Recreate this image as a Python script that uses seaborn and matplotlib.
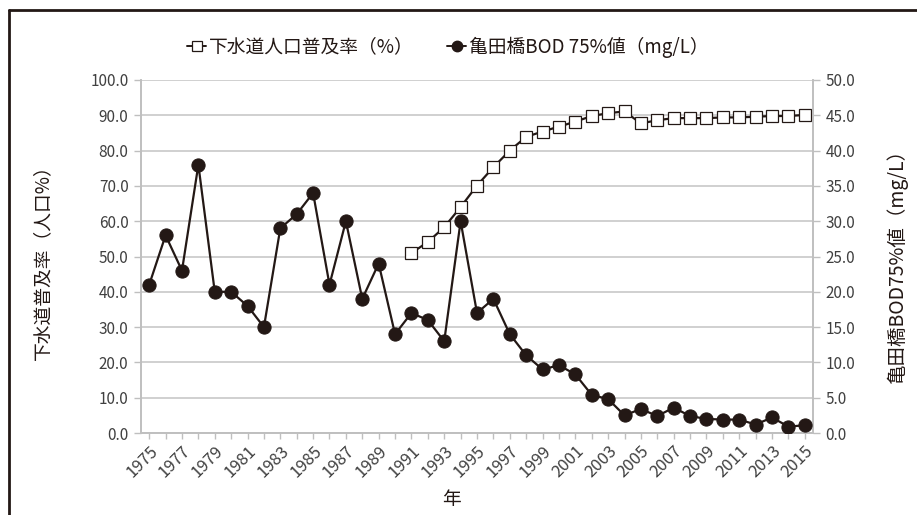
import matplotlib
matplotlib.use("Agg")
import matplotlib.pyplot as plt
import seaborn as sns
import pandas as pd
import numpy as np
from matplotlib.lines import Line2D

years = list(range(1975, 2016))
bod_values = [21, 28, 23, 38, 20, 20, 18, 15, 29, 31, 34, 21, 30, 19, 24, 14,
              17, 16, 13, 30, 17, 19, 14, 11, 9.0, 9.6, 8.3, 5.4, 4.8, 2.5,
              3.4, 2.4, 3.6, 2.4, 2.0, 1.9, 1.9, 1.2, 2.2, 0.9, 1.1]
sewer_years = list(range(1991, 2016))
sewer_values = [51.0, 54.1, 58.3, 64.0, 70.1, 75.3, 80.0, 83.9, 85.4, 86.8,
                88.2, 89.8, 90.6, 91.1, 87.7, 88.6, 89.2, 89.2, 89.2, 89.4,
                89.4, 89.6, 89.8, 89.8, 90.1]

legend_sewer = "下水道人口普及率（%）"
legend_bod = "亀田橋BOD 75%値（mg/L）"
ylabel_left = "下水道普及率（人口%）"
ylabel_right = "亀田橋BOD75%値（mg/L）"
xlabel = "年"

sns.set_theme(style="white")
plt.rcParams['font.family'] = ['Noto Sans CJK JP', 'DejaVu Sans']

INK = "#231815"
GRID = "#c8c8c8"
TXT = "#404040"

W, H = 917, 515
fig = plt.figure(figsize=(W / 100, H / 100), dpi=100)
ax = fig.add_axes([141 / W, 1 - 433 / H, (813 - 141) / W, (433 - 80) / H])
ax2 = ax.twinx()

df_sewer = pd.DataFrame({"year": sewer_years, "value": sewer_values})
df_bod = pd.DataFrame({"year": years, "value": bod_values})

sns.lineplot(data=df_sewer, x="year", y="value", ax=ax, color=INK, lw=1.6,
             marker="s", markersize=8.5, markerfacecolor="white",
             markeredgecolor=INK, markeredgewidth=0.9, zorder=3)
sns.lineplot(data=df_bod, x="year", y="value", ax=ax2, color=INK, lw=1.6,
             marker="o", markersize=9.5, markerfacecolor=INK,
             markeredgecolor=INK, zorder=3)

ax.set_xlim(1974.5, 2015.5)
ax.set_ylim(0, 100)
ax2.set_ylim(0, 50)
ax.set_yticks(np.arange(0, 101, 10))
ax2.set_yticks(np.arange(0, 51, 5))
ax.set_yticklabels([f"{v:.1f}" for v in np.arange(0, 101, 10)])
ax2.set_yticklabels([f"{v:.1f}" for v in np.arange(0, 51, 5)])
ax.set_xticks(years)
ax.set_xticklabels([str(y) if (y - 1975) % 2 == 0 else "" for y in years],
                   rotation=45, ha="right", rotation_mode="anchor")

ax.yaxis.grid(True, color=GRID, lw=1.2)
ax.set_axisbelow(True)
for a in (ax, ax2):
    for s in ("left", "right", "bottom"):
        a.spines[s].set_visible(True)
        a.spines[s].set_color("#bfbfbf")
        a.spines[s].set_linewidth(1.2)
    a.spines["top"].set_visible(False)
    a.set_xlabel("")
    a.set_ylabel("")

ax.tick_params(axis="y", which="both", left=True, length=5, width=1, color="#bfbfbf",
               labelsize=11, labelcolor=TXT, pad=4)
ax.tick_params(axis="x", bottom=True, length=4, width=1, color="#bfbfbf",
               labelsize=12, labelcolor=TXT, pad=3)
ax2.tick_params(axis="y", right=True, length=5, width=1, color="#bfbfbf",
                labelsize=11, labelcolor=TXT, pad=4)

fig.text(43 / W, 1 - 258 / H, ylabel_left, rotation=90, ha="center", va="center",
         fontsize=13.5, color=INK)
fig.text(897 / W, 1 - 262 / H, ylabel_right, rotation=90, ha="center", va="center",
         fontsize=14, color=INK)
fig.text(451 / W, 1 - 500 / H, xlabel, ha="center", va="center", fontsize=13.5, color=INK)

handles = [
    Line2D([], [], color=INK, lw=1.4, marker="s", markersize=7,
           markerfacecolor="white", markeredgecolor=INK, markeredgewidth=0.9),
    Line2D([], [], color=INK, lw=1.4, marker="o", markersize=7.5,
           markerfacecolor=INK, markeredgecolor=INK),
]
fig.legend(handles, [legend_sewer, legend_bod], loc="center",
           bbox_to_anchor=(448 / W, 1 - 47 / H), ncol=2, frameon=False,
           fontsize=13.5, handlelength=1.0, handletextpad=0.15, columnspacing=1.8,
           labelcolor=INK)

fig.add_artist(Line2D([9 / W, 9 / W], [0, 1 - 10 / H], color=INK, lw=2,
                      transform=fig.transFigure))
fig.add_artist(Line2D([9 / W, 1], [1 - 10 / H, 1 - 10 / H], color=INK, lw=2,
                      transform=fig.transFigure))

fig.savefig("out.png", dpi=100)
